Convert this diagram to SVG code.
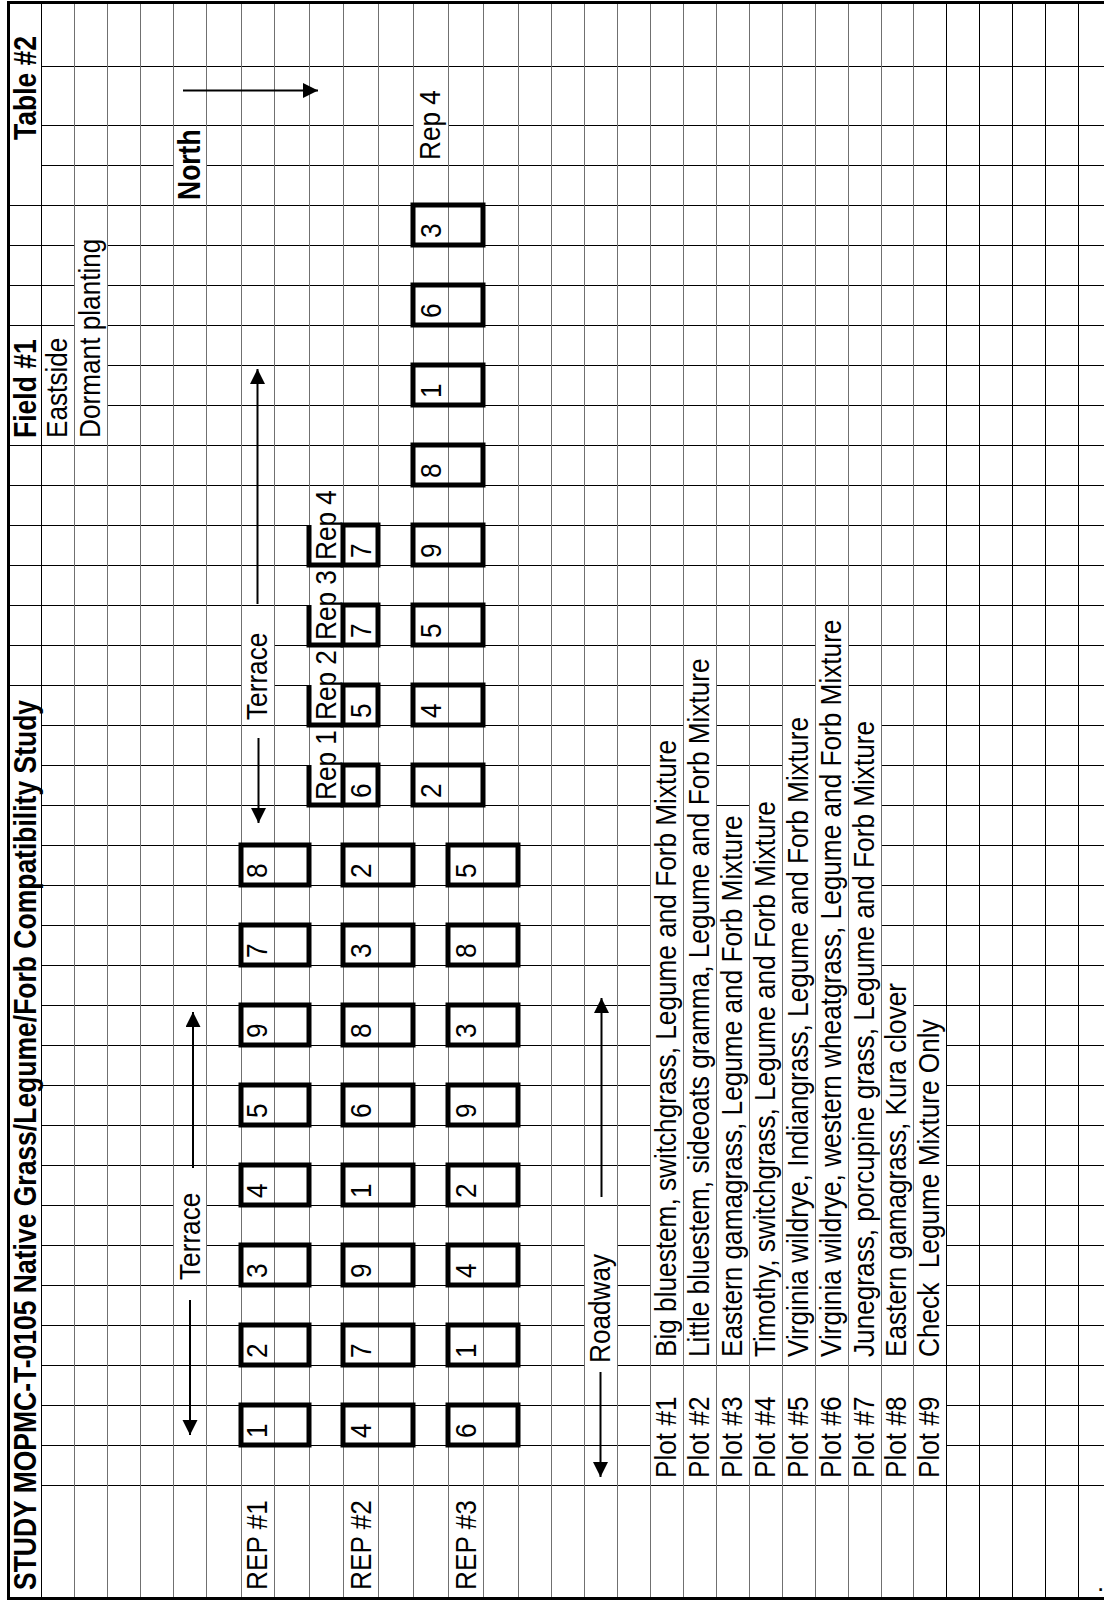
<svg xmlns="http://www.w3.org/2000/svg" width="1104" height="1602" viewBox="0 0 1104 1602">
<style>
.hl{stroke:#000;stroke-width:1;fill:none}
.vg{stroke:#707070;stroke-width:1;fill:none}
.vb{stroke:#000;stroke-width:1;fill:none}
.mask{fill:#fff;stroke:none}
.box{fill:none;stroke:#000;stroke-width:5}
.t{font-family:"Liberation Sans",Arial,sans-serif;font-size:26.2px;fill:#000}
.b{font-weight:bold;font-size:26.5px}
.arr{stroke:#000;stroke-width:2;fill:none;marker-end:url(#ah)}
</style>
<defs>
<marker id="ah" markerUnits="userSpaceOnUse" markerWidth="16" markerHeight="16" refX="15" refY="7.5" orient="auto"><path d="M0,0L15,7.5L0,15z" fill="#000"/></marker>
</defs>
<rect x="0" y="0" width="1104" height="1602" fill="#fff"/>
<g id="grid" shape-rendering="crispEdges">
<path class="hl" d="M8 66H1104M8 125H1104M8 165H1104M8 205H1104M8 245H1104M8 285H1104M8 325H1104M8 365H1104M8 405H1104M8 445H1104M8 485H1104M8 525H1104M8 565H1104M8 605H1104M8 645H1104M8 685H1104M8 725H1104M8 765H1104M8 805H1104M8 845H1104M8 885H1104M8 925H1104M8 965H1104M8 1005H1104M8 1045H1104M8 1085H1104M8 1125H1104M8 1165H1104M8 1205H1104M8 1245H1104M8 1285H1104M8 1325H1104M8 1365H1104M8 1405H1104M8 1445H1104M8 1485H1104"/>
<g id="overflow-masks">
<rect class="mask" x="8" y="63" width="33" height="104"/>
<rect class="mask" x="8" y="363" width="33" height="44"/>
<rect class="mask" x="8" y="723" width="33" height="764"/>
<rect class="mask" x="41" y="363" width="33" height="44"/>
<rect class="mask" x="74" y="243" width="33" height="164"/>
<rect class="mask" x="173" y="163" width="33" height="4"/>
<rect class="mask" x="173" y="1203" width="33" height="44"/>
<rect class="mask" x="241" y="643" width="33" height="44"/>
<rect class="mask" x="309" y="523" width="34" height="4"/>
<rect class="mask" x="309" y="603" width="34" height="4"/>
<rect class="mask" x="309" y="683" width="34" height="4"/>
<rect class="mask" x="309" y="763" width="34" height="4"/>
<rect class="mask" x="413" y="123" width="35" height="4"/>
<rect class="mask" x="584" y="1243" width="33" height="124"/>
<rect class="mask" x="650" y="763" width="33" height="564"/>
<rect class="mask" x="683" y="683" width="33" height="644"/>
<rect class="mask" x="716" y="843" width="33" height="484"/>
<rect class="mask" x="749" y="803" width="33" height="524"/>
<rect class="mask" x="782" y="723" width="33" height="604"/>
<rect class="mask" x="815" y="643" width="33" height="684"/>
<rect class="mask" x="848" y="723" width="33" height="604"/>
<rect class="mask" x="881" y="1003" width="32" height="324"/>
<rect class="mask" x="913" y="1043" width="33" height="284"/>
<rect class="mask" x="650" y="1403" width="296" height="44"/>
</g>
<path class="vb" d="M41 2V1599"/>
<path class="vg" d="M74 2V1599M107 2V1599M140 2V1599M173 2V1599M206 2V1599M241 2V1599M274 2V1599M309 2V1599M343 2V1599M378 2V1599M413 2V1599M448 2V1599M483 2V1599M518 2V1599M551 2V1599M584 2V1599M617 2V1599M650 2V1599M683 2V1599M716 2V1599M749 2V1599M782 2V1599M815 2V1599M848 2V1599M881 2V1599M913 2V1599"/>
<path class="vb" d="M946 2V1599M979 2V1599M1012 2V1599M1045 2V1599M1078 2V1599"/>
<path d="M8 2.5H1104M8 1598.5H1104M8 1V1600" stroke="#000" stroke-width="3" fill="none"/>
</g>

<g id="header">
<text class="t b" transform="translate(36,1590) rotate(-90) scale(1,1.15)">STUDY MOPMC-T-0105 Native Grass/Legume/Forb Compatibility Study</text>
<text class="t b" transform="translate(36,438) rotate(-90) scale(1,1.15)">Field #1</text>
<text class="t b" transform="translate(36,140) rotate(-90) scale(1,1.15)">Table #2</text>
<text class="t" transform="translate(67,438) rotate(-90) scale(1,1.15)">Eastside</text>
<text class="t" transform="translate(100,438) rotate(-90) scale(1,1.15)">Dormant planting</text>
<text class="t b" transform="translate(200,200) rotate(-90) scale(1,1.15)">North</text>
<text class="t" transform="translate(440,160) rotate(-90) scale(1,1.15)">Rep 4</text>
</g>

<g id="labels">
<text class="t" transform="translate(267,720) rotate(-90) scale(1,1.15)">Terrace</text>
<text class="t" transform="translate(200,1280) rotate(-90) scale(1,1.15)">Terrace</text>
<text class="t" transform="translate(610,1363) rotate(-90) scale(1,1.15)">Roadway</text>
<text class="t" transform="translate(267,1590) rotate(-90) scale(1,1.15)">REP #1</text>
<text class="t" transform="translate(371,1590) rotate(-90) scale(1,1.15)">REP #2</text>
<text class="t" transform="translate(476,1590) rotate(-90) scale(1,1.15)">REP #3</text>
</g>

<g id="legend">
<text class="t" transform="translate(676,1478) rotate(-90) scale(1,1.15)">Plot #1</text>
<text class="t" transform="translate(709,1478) rotate(-90) scale(1,1.15)">Plot #2</text>
<text class="t" transform="translate(742,1478) rotate(-90) scale(1,1.15)">Plot #3</text>
<text class="t" transform="translate(775,1478) rotate(-90) scale(1,1.15)">Plot #4</text>
<text class="t" transform="translate(808,1478) rotate(-90) scale(1,1.15)">Plot #5</text>
<text class="t" transform="translate(841,1478) rotate(-90) scale(1,1.15)">Plot #6</text>
<text class="t" transform="translate(874,1478) rotate(-90) scale(1,1.15)">Plot #7</text>
<text class="t" transform="translate(906,1478) rotate(-90) scale(1,1.15)">Plot #8</text>
<text class="t" transform="translate(939,1478) rotate(-90) scale(1,1.15)">Plot #9</text>
<text class="t" transform="translate(676,1357) rotate(-90) scale(1,1.15)">Big bluestem, switchgrass, Legume and Forb Mixture</text>
<text class="t" transform="translate(709,1357) rotate(-90) scale(1,1.15)">Little bluestem, sideoats gramma, Legume and Forb Mixture</text>
<text class="t" transform="translate(742,1357) rotate(-90) scale(1,1.15)">Eastern gamagrass, Legume and Forb Mixture</text>
<text class="t" transform="translate(775,1357) rotate(-90) scale(1,1.15)">Timothy, switchgrass, Legume and Forb Mixture</text>
<text class="t" transform="translate(808,1357) rotate(-90) scale(1,1.15)">Virginia wildrye, Indiangrass, Legume and Forb Mixture</text>
<text class="t" transform="translate(841,1357) rotate(-90) scale(1,1.15)">Virginia wildrye, western wheatgrass, Legume and Forb Mixture</text>
<text class="t" transform="translate(874,1357) rotate(-90) scale(1,1.15)">Junegrass, porcupine grass, Legume and Forb Mixture</text>
<text class="t" transform="translate(906,1357) rotate(-90) scale(1,1.15)">Eastern gamagrass, Kura clover</text>
<text class="t" transform="translate(939,1357) rotate(-90) scale(1,1.15)" xml:space="preserve">Check  Legume Mixture Only</text>
</g>

<g id="rep1">
<g id="rep1-p1"><rect class="box" x="241" y="1405" width="68" height="40"/><text class="t" transform="translate(267,1438) rotate(-90) scale(1,1.15)">1</text></g>
<g id="rep1-p2"><rect class="box" x="241" y="1325" width="68" height="40"/><text class="t" transform="translate(267,1358) rotate(-90) scale(1,1.15)">2</text></g>
<g id="rep1-p3"><rect class="box" x="241" y="1245" width="68" height="40"/><text class="t" transform="translate(267,1278) rotate(-90) scale(1,1.15)">3</text></g>
<g id="rep1-p4"><rect class="box" x="241" y="1165" width="68" height="40"/><text class="t" transform="translate(267,1198) rotate(-90) scale(1,1.15)">4</text></g>
<g id="rep1-p5"><rect class="box" x="241" y="1085" width="68" height="40"/><text class="t" transform="translate(267,1118) rotate(-90) scale(1,1.15)">5</text></g>
<g id="rep1-p9"><rect class="box" x="241" y="1005" width="68" height="40"/><text class="t" transform="translate(267,1038) rotate(-90) scale(1,1.15)">9</text></g>
<g id="rep1-p7"><rect class="box" x="241" y="925" width="68" height="40"/><text class="t" transform="translate(267,958) rotate(-90) scale(1,1.15)">7</text></g>
<g id="rep1-p8"><rect class="box" x="241" y="845" width="68" height="40"/><text class="t" transform="translate(267,878) rotate(-90) scale(1,1.15)">8</text></g>
</g>
<g id="rep2">
<g id="rep2-p4"><rect class="box" x="343" y="1405" width="70" height="40"/><text class="t" transform="translate(371,1438) rotate(-90) scale(1,1.15)">4</text></g>
<g id="rep2-p7"><rect class="box" x="343" y="1325" width="70" height="40"/><text class="t" transform="translate(371,1358) rotate(-90) scale(1,1.15)">7</text></g>
<g id="rep2-p9"><rect class="box" x="343" y="1245" width="70" height="40"/><text class="t" transform="translate(371,1278) rotate(-90) scale(1,1.15)">9</text></g>
<g id="rep2-p1"><rect class="box" x="343" y="1165" width="70" height="40"/><text class="t" transform="translate(371,1198) rotate(-90) scale(1,1.15)">1</text></g>
<g id="rep2-p6"><rect class="box" x="343" y="1085" width="70" height="40"/><text class="t" transform="translate(371,1118) rotate(-90) scale(1,1.15)">6</text></g>
<g id="rep2-p8"><rect class="box" x="343" y="1005" width="70" height="40"/><text class="t" transform="translate(371,1038) rotate(-90) scale(1,1.15)">8</text></g>
<g id="rep2-p3"><rect class="box" x="343" y="925" width="70" height="40"/><text class="t" transform="translate(371,958) rotate(-90) scale(1,1.15)">3</text></g>
<g id="rep2-p2"><rect class="box" x="343" y="845" width="70" height="40"/><text class="t" transform="translate(371,878) rotate(-90) scale(1,1.15)">2</text></g>
</g>
<g id="rep3">
<g id="rep3-p6"><rect class="box" x="448" y="1405" width="70" height="40"/><text class="t" transform="translate(476,1438) rotate(-90) scale(1,1.15)">6</text></g>
<g id="rep3-p1"><rect class="box" x="448" y="1325" width="70" height="40"/><text class="t" transform="translate(476,1358) rotate(-90) scale(1,1.15)">1</text></g>
<g id="rep3-p4"><rect class="box" x="448" y="1245" width="70" height="40"/><text class="t" transform="translate(476,1278) rotate(-90) scale(1,1.15)">4</text></g>
<g id="rep3-p2"><rect class="box" x="448" y="1165" width="70" height="40"/><text class="t" transform="translate(476,1198) rotate(-90) scale(1,1.15)">2</text></g>
<g id="rep3-p9"><rect class="box" x="448" y="1085" width="70" height="40"/><text class="t" transform="translate(476,1118) rotate(-90) scale(1,1.15)">9</text></g>
<g id="rep3-p3"><rect class="box" x="448" y="1005" width="70" height="40"/><text class="t" transform="translate(476,1038) rotate(-90) scale(1,1.15)">3</text></g>
<g id="rep3-p8"><rect class="box" x="448" y="925" width="70" height="40"/><text class="t" transform="translate(476,958) rotate(-90) scale(1,1.15)">8</text></g>
<g id="rep3-p5"><rect class="box" x="448" y="845" width="70" height="40"/><text class="t" transform="translate(476,878) rotate(-90) scale(1,1.15)">5</text></g>
</g>

<g id="upper-reps">
<g id="up-rep1"><path class="box" d="M309 765V805H343"/><rect class="box" x="343" y="765" width="35" height="40"/><text class="t" transform="translate(336,800) rotate(-90) scale(1,1.15)">Rep 1</text><text class="t" transform="translate(371,798) rotate(-90) scale(1,1.15)">6</text></g>
<g id="up-rep2"><path class="box" d="M309 685V725H343"/><rect class="box" x="343" y="685" width="35" height="40"/><text class="t" transform="translate(336,720) rotate(-90) scale(1,1.15)">Rep 2</text><text class="t" transform="translate(371,718) rotate(-90) scale(1,1.15)">5</text></g>
<g id="up-rep3"><path class="box" d="M309 605V645H343"/><rect class="box" x="343" y="605" width="35" height="40"/><text class="t" transform="translate(336,640) rotate(-90) scale(1,1.15)">Rep 3</text><text class="t" transform="translate(371,638) rotate(-90) scale(1,1.15)">7</text></g>
<g id="up-rep4"><path class="box" d="M309 525V565H343"/><rect class="box" x="343" y="525" width="35" height="40"/><text class="t" transform="translate(336,560) rotate(-90) scale(1,1.15)">Rep 4</text><text class="t" transform="translate(371,558) rotate(-90) scale(1,1.15)">7</text></g>
</g>

<g id="rep4">
<g id="rep4-p2"><rect class="box" x="413" y="765" width="70" height="40"/><text class="t" transform="translate(441,798) rotate(-90) scale(1,1.15)">2</text></g>
<g id="rep4-p4"><rect class="box" x="413" y="685" width="70" height="40"/><text class="t" transform="translate(441,718) rotate(-90) scale(1,1.15)">4</text></g>
<g id="rep4-p5"><rect class="box" x="413" y="605" width="70" height="40"/><text class="t" transform="translate(441,638) rotate(-90) scale(1,1.15)">5</text></g>
<g id="rep4-p9"><rect class="box" x="413" y="525" width="70" height="40"/><text class="t" transform="translate(441,558) rotate(-90) scale(1,1.15)">9</text></g>
<g id="rep4-p8"><rect class="box" x="413" y="445" width="70" height="40"/><text class="t" transform="translate(441,478) rotate(-90) scale(1,1.15)">8</text></g>
<g id="rep4-p1"><rect class="box" x="413" y="365" width="70" height="40"/><text class="t" transform="translate(441,398) rotate(-90) scale(1,1.15)">1</text></g>
<g id="rep4-p6"><rect class="box" x="413" y="285" width="70" height="40"/><text class="t" transform="translate(441,318) rotate(-90) scale(1,1.15)">6</text></g>
<g id="rep4-p3"><rect class="box" x="413" y="205" width="70" height="40"/><text class="t" transform="translate(441,238) rotate(-90) scale(1,1.15)">3</text></g>
</g>

<g id="connectors">
<path class="arr" d="M183 90.5H318"/>
<path class="arr" d="M258.5 738V823"/>
<path class="arr" d="M257.5 604V369"/>
<path class="arr" d="M190 1300V1435"/>
<path class="arr" d="M193 1168V1012"/>
<path class="arr" d="M600.5 1372V1477"/>
<path class="arr" d="M601.5 1197V998"/>
</g>
<text class="t" x="1097" y="1591">.</text>
</svg>
